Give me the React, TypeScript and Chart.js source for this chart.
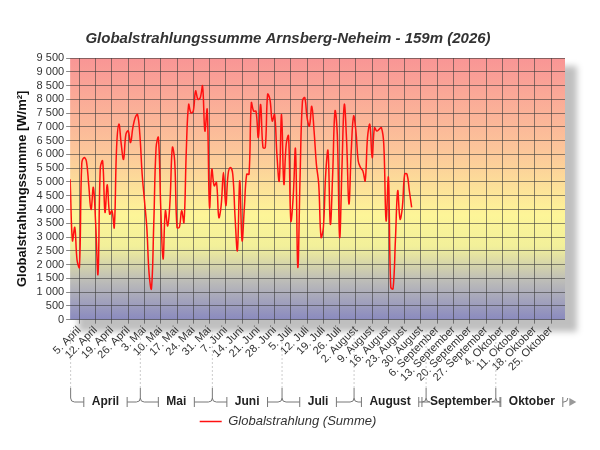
import { useEffect, useRef } from 'react';
import { Chart, registerables } from 'chart.js';

Chart.register(...registerables);

// day 0 = 1. April
const radiation = [
  5100, 2870, 3350, 2150, 1900, 5650, 5880, 5760, 4900, 4000,
  4800, 3470, 1660, 5520, 5760, 3900, 4900, 3830, 3950, 3350,
  6250, 7100, 6370, 5820, 6730, 6850, 6430, 6970, 7330, 7450,
  6730, 5280, 4320, 3350, 1660, 1120, 3470, 6250, 6610, 4080,
  2200, 3950, 3400, 4320, 6250, 5760, 3350, 3350, 3950, 3530,
  6130, 7810, 7510, 7570, 8300, 8000, 8060, 8480, 6850, 7630,
  4080, 5460, 4860, 4980, 3710, 4140, 5340, 4140, 5280, 5520,
  5280, 3710, 2510, 5040, 2870, 4080, 5280, 5280, 7870, 7570,
  7570, 6610, 7810, 6250, 6250, 8180, 8000, 7210, 7450, 6000,
  5040, 7450, 4920, 6370, 6670, 3590, 4440, 6190, 1900, 5280,
  7940, 8060, 7330, 7030, 7750, 6850, 5640, 4920, 2990, 3350,
  5280, 6130, 3470, 5280, 7570, 6730, 2990, 5520, 7810, 6490,
  4200, 6130, 7390, 6850, 5760, 5520, 5400, 5040, 6610, 7090,
  5880, 6970, 6850, 6910, 6970, 6370, 3590, 5160, 1180, 1120,
  2870, 4680, 3650, 4080, 5280, 5280, 4680, 4080,
];

const tickLabels = [
  '5. April', '12. April', '19. April', '26. April', '3. Mai', '10. Mai', '17. Mai',
  '24. Mai', '31. Mai', '7. Juni', '14. Juni', '21. Juni', '28. Juni', '5. Juli',
  '12. Juli', '19. Juli', '26. Juli', '2. August', '9. August', '16. August',
  '23. August', '30. August', '6. September', '13. September', '20. September',
  '27. September', '4. Oktober', '11. Oktober', '18. Oktober', '25. Oktober',
];
const firstTickDay = 4;

const months = ['April', 'Mai', 'Juni', 'Juli', 'August', 'September', 'Oktober'];
const monthStarts = [0, 30, 61, 91, 122, 153, 183, 214];

const font = 'Arial, "Liberation Sans", sans-serif';

const backdrop = {
  id: 'backdrop',
  beforeDraw(chart: any) {
    const { ctx, chartArea: a } = chart;
    ctx.save();
    ctx.fillStyle = 'rgba(0,0,0,0.25)';
    ctx.filter = 'blur(3px)';
    ctx.fillRect(a.left + 8, a.top + 8, a.right - a.left + 4, a.bottom - a.top + 4);
    ctx.filter = 'none';
    const g = ctx.createLinearGradient(0, a.top, 0, a.bottom);
    g.addColorStop(0, '#f99595');
    g.addColorStop(0.35, '#fcc59a');
    g.addColorStop(0.6, '#fdf598');
    g.addColorStop(0.72, '#f2f09a');
    g.addColorStop(0.85, '#bdbdb8');
    g.addColorStop(1, '#8a8abf');
    ctx.fillStyle = g;
    ctx.fillRect(a.left, a.top, a.right - a.left, a.bottom - a.top);
    ctx.restore();
  },
};

const monthBrackets = {
  id: 'monthBrackets',
  afterDraw(chart: any) {
    const { ctx } = chart;
    const x = chart.scales.x;
    const y0 = 388;
    const yl = 402;
    ctx.save();
    ctx.lineWidth = 1;
    ctx.font = `bold 12px ${font}`;
    ctx.fillStyle = '#222';
    ctx.textAlign = 'center';
    ctx.textBaseline = 'middle';
    for (let i = 0; i < months.length; i++) {
      const l = x.getPixelForValue(monthStarts[i]) + 0.5;
      const r = x.getPixelForValue(monthStarts[i + 1]) + 0.5;
      const mid = (l + r) / 2;
      const w = ctx.measureText(months[i]).width / 2 + 8;
      ctx.setLineDash([2, 2]);
      ctx.strokeStyle = '#ccc';
      ctx.beginPath();
      ctx.moveTo(l, 330);
      ctx.lineTo(l, y0);
      ctx.stroke();
      ctx.setLineDash([]);
      ctx.strokeStyle = '#777';
      ctx.beginPath();
      ctx.moveTo(l, y0);
      ctx.lineTo(l, yl - 4);
      ctx.quadraticCurveTo(l, yl, l + 4, yl);
      ctx.lineTo(mid - w, yl);
      ctx.moveTo(mid - w, yl - 5);
      ctx.lineTo(mid - w, yl + 5);
      ctx.moveTo(mid + w, yl - 5);
      ctx.lineTo(mid + w, yl + 5);
      ctx.moveTo(mid + w, yl);
      ctx.lineTo(r - 4, yl);
      ctx.quadraticCurveTo(r, yl, r, yl - 4);
      ctx.stroke();
      ctx.fillText(months[i], mid, yl);
    }
    const end = x.getPixelForValue(214);
    ctx.fillStyle = '#999';
    ctx.beginPath();
    ctx.moveTo(end + 2, yl - 4);
    ctx.lineTo(end + 9, yl);
    ctx.lineTo(end + 2, yl + 4);
    ctx.fill();
    ctx.restore();
  },
};

export default function App() {
  const canvasRef = useRef<HTMLCanvasElement>(null);

  useEffect(() => {
    if (!canvasRef.current) return;
    const points = radiation.map((v, i) => ({ x: i, y: v }));
    const chart = new Chart(canvasRef.current, {
      type: 'line',
      data: {
        datasets: [
          {
            label: 'Globalstrahlung (Summe)',
            data: points,
            borderColor: '#ff1010',
            borderWidth: 1.5,
            pointRadius: 0,
            tension: 0.4,
            fill: false,
          },
        ],
      },
      options: {
        animation: false,
        responsive: false,
        layout: { padding: { top: 0, right: 35, left: 11, bottom: 12 } },
        plugins: {
          title: {
            display: true,
            text: 'Globalstrahlungssumme Arnsberg-Neheim - 159m (2026)',
            font: { family: font, size: 15, style: 'italic', weight: 'bold' },
            color: '#333',
            padding: { top: 30, bottom: 10 },
          },
          legend: {
            position: 'bottom',
            labels: {
              font: { family: font, size: 13, style: 'italic' },
              color: '#333',
              boxWidth: 22,
              boxHeight: 0,
              padding: 4,
            },
          },
          tooltip: { enabled: false },
        },
        scales: {
          x: {
            type: 'linear',
            min: 0,
            max: 213,
            afterBuildTicks: (s: any) => {
              s.ticks = tickLabels.map((_, i) => ({ value: firstTickDay + 7 * i }));
            },
            afterFit: (s: any) => {
              s.height += 27;
            },
            ticks: {
              autoSkip: false,
              maxRotation: 45,
              minRotation: 45,
              font: { family: font, size: 11 },
              color: '#333',
              padding: 0,
              callback: (v: any) => tickLabels[(Number(v) - firstTickDay) / 7] ?? '',
            },
            grid: { color: 'rgba(60,60,60,0.6)', drawTicks: true, tickLength: 4 },
            border: { display: false },
          },
          y: {
            min: 0,
            max: 9500,
            ticks: {
              stepSize: 500,
              autoSkip: false,
              font: { family: font, size: 11 },
              color: '#333',
              padding: 2,
              callback: (v: any) => String(v).replace(/\B(?=(\d{3})+(?!\d))/g, ' '),
            },
            title: {
              display: true,
              text: 'Globalstrahlungssumme [W/m²]',
              font: { family: font, size: 13, weight: 'bold' },
              color: '#111',
            },
            grid: { color: 'rgba(60,60,60,0.6)', tickLength: 4 },
            border: { display: false },
          },
        },
      },
      plugins: [backdrop, monthBrackets],
    });
    return () => chart.destroy();
  }, []);

  return (
    <div style={{ position: 'absolute', left: 0, top: 0, width: 600, height: 450, background: '#fff' }}>
      <canvas ref={canvasRef} width={600} height={450} />
    </div>
  );
}
